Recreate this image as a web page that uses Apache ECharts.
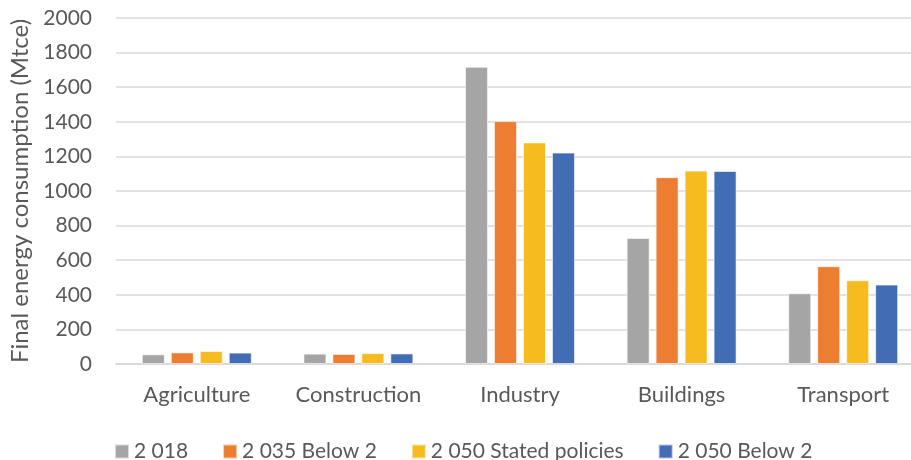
<!DOCTYPE html>
<html><head><meta charset="utf-8">
<script src="https://cdn.jsdelivr.net/npm/echarts@6/dist/echarts.min.js"></script>
<style>html,body{margin:0;padding:0;background:#fff;overflow:hidden}#c{width:911px;height:460px}</style>
</head><body><div id="c"></div>
<script>
const categories = ['Agriculture', 'Construction', 'Industry', 'Buildings', 'Transport'];
const seriesNames = ['2 018', '2 035 Below 2', '2 050 Stated policies', '2 050 Below 2'];
const s2018 = [56, 60, 1718, 728, 409];
const s2035Below2 = [67, 58, 1404, 1080, 565];
const s2050Stated = [75, 63, 1281, 1118, 484];
const s2050Below2 = [66, 61, 1222, 1116, 459];
const yTicks = [0, 200, 400, 600, 800, 1000, 1200, 1400, 1600, 1800, 2000];
const yTitle = 'Final energy consumption (Mtce)';

const colors = ['#A5A5A5', '#ED7D31', '#F6BC1F', '#426DB5'];
const values = [s2018, s2035Below2, s2050Stated, s2050Below2];
const font = 'Lato, "Open Sans", sans-serif';
const chart = echarts.init(document.getElementById('c'));
chart.setOption({
  animation: false,
  color: colors,
  textStyle: { fontFamily: font, color: '#595959' },
  grid: { left: 116, width: 808, top: 18, height: 346, containLabel: false, outerBoundsMode: 'none' },
  legend: {
    top: 436, left: 109, itemWidth: 14, itemHeight: 14, itemGap: 34,
    icon: 'rect',
    textStyle: { fontFamily: font, fontSize: 21, color: '#595959' },
    data: seriesNames
  },
  xAxis: {
    type: 'category', data: categories,
    axisLine: { lineStyle: { color: '#D9D9D9', width: 2 } },
    axisTick: { show: false },
    axisLabel: { fontSize: 22, color: '#595959', margin: 20, fontFamily: font, interval: 0 }
  },
  yAxis: {
    type: 'value', min: yTicks[0], max: yTicks[yTicks.length - 1], interval: 200,
    name: yTitle, nameLocation: 'middle', nameGap: 82,
    nameTextStyle: { fontSize: 24, color: '#595959', fontFamily: font },
    axisLine: { show: false }, axisTick: { show: false },
    axisLabel: { fontSize: 21, color: '#595959', margin: 24, fontFamily: font,
      formatter: v => String(v) },
    splitLine: { lineStyle: { color: '#D9D9D9', width: 1.5 } }
  },
  series: seriesNames.map((n, i) => ({
    name: n, type: 'bar', data: values[i], barWidth: 23, barGap: '26%',
    itemStyle: { color: colors[i], borderColor: 'rgba(255,255,255,0.6)', borderWidth: 1 }
  }))
});
</script></body></html>
